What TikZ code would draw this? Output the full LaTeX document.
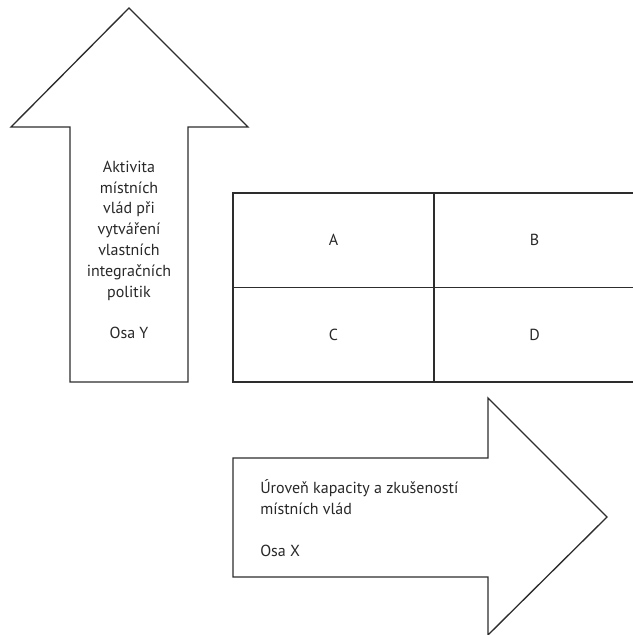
\documentclass[tikz,border=0pt]{standalone}
\usepackage{fontspec}
\setmainfont{PT Sans}
\usetikzlibrary{positioning}
\definecolor{clrL}{RGB}{45,45,45}
\definecolor{clrT}{RGB}{40,40,40}

\begin{document}
\begin{tikzpicture}[x=0.75pt,y=-0.75pt,line join=miter,
    shapeline/.style={draw=clrL,line width=1pt},
    cell/.style={shapeline,minimum width=201*0.75pt,minimum height=94.5*0.75pt,
      inner sep=0pt,outer sep=0pt,font=\fontsize{12}{15}\selectfont,text=clrT},
    axistext/.style={font=\fontsize{12}{15.6}\selectfont,text=clrT,inner sep=0pt}]
  \useasboundingbox (0,0) rectangle (632,635);

  % --- osa Y ---
  \draw[shapeline] (129,8) -- (248,127) -- (188,127) -- (188,382)
     -- (70,382) -- (70,127) -- (11,127) -- cycle;
  \node[axistext,align=center] (osaY) at (129,250)
    {Aktivita\\místních\\vlád při\\vytváření\\vlastních\\integračních\\politik\\[15.6pt]Osa Y};

  % --- table ---
  \node[cell,anchor=north west] (cA) at (233,193) {A};
  \node[cell,right=0pt of cA] (cB) {B};
  \node[cell,below=0pt of cA] (cC) {C};
  \node[cell,right=0pt of cC] (cD) {D};

  % --- osa X ---
  \draw[shapeline] (607,517) -- (488,635) -- (488,577) -- (233,577)
     -- (233,458) -- (488,458) -- (488,398) -- cycle;
  \node[axistext,align=left,anchor=west] (osaX) at (260,518)
    {Úroveň kapacity a zkušeností\\místních vlád\\[15.6pt]Osa X};
\end{tikzpicture}
\end{document}
